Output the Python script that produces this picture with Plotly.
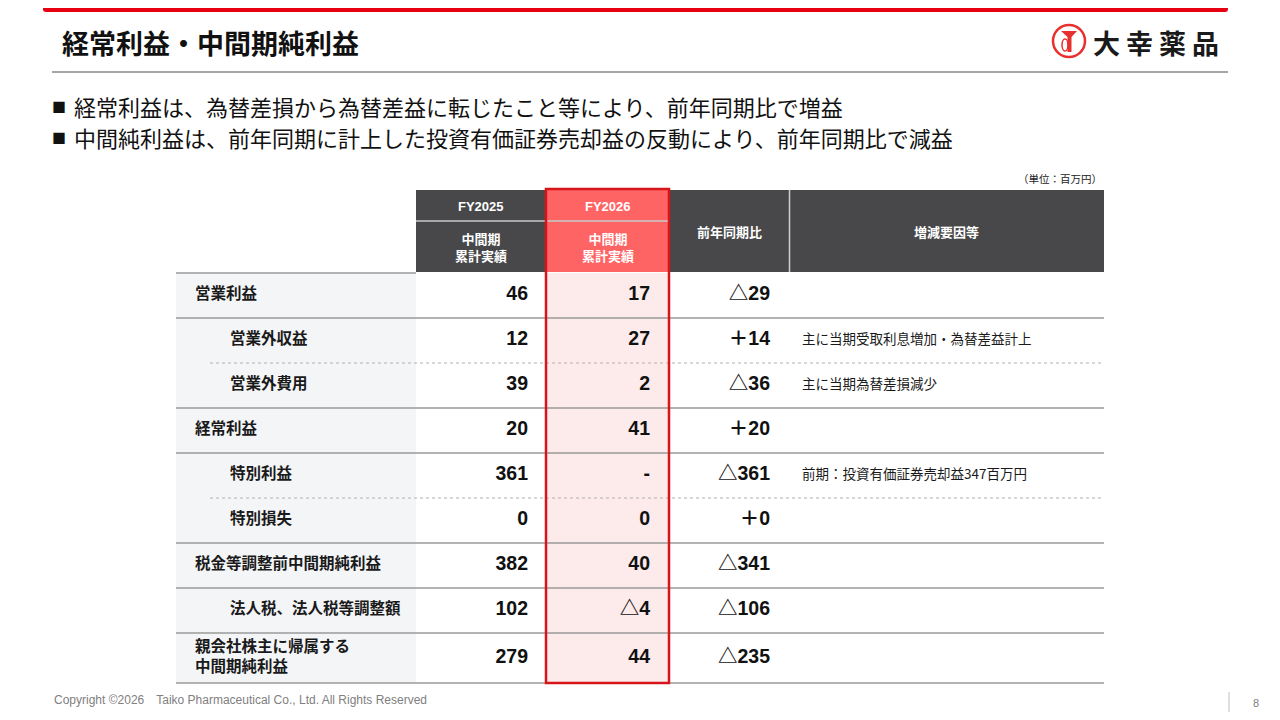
import plotly.graph_objects as go

# ---- data ----
row_labels = [
    "営業利益",
    "営業外収益",
    "営業外費用",
    "経常利益",
    "特別利益",
    "特別損失",
    "税金等調整前中間期純利益",
    "法人税、法人税等調整額",
    "親会社株主に帰属する<br>中間期純利益",
]
row_indent = [0, 1, 1, 0, 1, 1, 0, 1, 0]
fy2025 = [46, 12, 39, 20, 361, 0, 382, 102, 279]
fy2026 = [17, 27, 2, 41, None, 0, 40, -4, 44]
yoy = [-29, 14, -36, 20, -361, 0, -341, -106, -235]
remarks = [
    "",
    "主に当期受取利息増加・為替差益計上",
    "主に当期為替差損減少",
    "",
    "前期：投資有価証券売却益347百万円",
    "",
    "",
    "",
    "",
]
col_headers = ["FY2025", "FY2026", "前年同期比", "増減要因等"]
sub_header = "中間期<br>累計実績"
title = "経常利益・中間期純利益"
bullets = [
    "経常利益は、為替差損から為替差益に転じたこと等により、前年同期比で増益",
    "中間純利益は、前年同期に計上した投資有価証券売却益の反動により、前年同期比で減益",
]
unit_note = "（単位：百万円）"
logo_chars = ["大", "幸", "薬", "品"]
footer = "Copyright ©2026　Taiko Pharmaceutical Co., Ltd. All Rights Reserved"
page_no = "8"

# ---- styles ----
RED = "#e60012"
BORDER_RED = "#d7141a"
HEAD = "#48484a"
HEAD_RED = "#ff6464"
PINK = "#fdeaea"
LABEL_BG = "#f4f5f7"
LINE = "#9a9a9a"
JP = "Noto Sans CJK JP"
NUM = "Liberation Sans, Noto Sans CJK JP"
PAGE_OFFSET = 8  # the page body margin shifts the figure by this much


def fmt(v, sign=False):
    if v is None:
        return "-"
    if v < 0:
        return "△" + str(abs(v))
    return ("＋" if sign else "") + str(v)


# table geometry (pixels)
x_lab, x_25, x_26, x_yoy, x_rem, x_end = 176, 416, 546, 669, 789, 1104
head_top, head_mid, head_bot = 190, 221, 273
row_h = [45] * (len(row_labels) - 1) + [50]
edges = [head_bot]
for h in row_h:
    edges.append(edges[-1] + h)
centers = [(edges[i] + edges[i + 1]) / 2 for i in range(len(row_h))]

fig = go.Figure()
shapes = []


def rect(x0, y0, x1, y1, fill, layer="below"):
    shapes.append(dict(type="rect", x0=x0, x1=x1, y0=y0, y1=y1, fillcolor=fill,
                       line=dict(width=0), layer=layer))


def hline(y, x0, x1, color=LINE, width=1.6, dash="solid"):
    shapes.append(dict(type="line", x0=x0, x1=x1, y0=y, y1=y,
                       line=dict(color=color, width=width, dash=dash), layer="below"))


# top red bar with rounded bottom corners (only the part below the page margin is drawable)
shapes.append(dict(type="path", path="M43,8 L1228,8 L1228,9 Q1228,12 1225,12 L46,12 Q43,12 43,9 Z",
                   fillcolor=RED, line=dict(width=0), layer="below"))
# title underline
hline(72, 52, 1228, color="#a6a6a6", width=2)

# logo mark
shapes.append(dict(type="circle", x0=1053, x1=1085, y0=25, y1=57, fillcolor="white",
                   line=dict(color="#e8302e", width=2.5), layer="below"))
shapes.append(dict(type="path", path="M1061,31 L1077,31 L1071.5,37 L1071.5,52 L1067.5,52 L1067.5,37 Z",
                   fillcolor="#e8302e", line=dict(width=0), layer="below"))
shapes.append(dict(type="circle", x0=1062, x1=1068, y0=39, y1=51,
                   line=dict(color="#e8302e", width=1.5), layer="below"))

# header cells
rect(x_25, head_top, x_end, head_bot - 1, HEAD)
rect(x_26, head_top, x_yoy, head_bot - 1, HEAD_RED)
hline(head_mid, x_25, x_yoy, color="#c8c8c8", width=1.5)
shapes.append(dict(type="line", x0=x_rem + 0.5, x1=x_rem + 0.5, y0=head_top, y1=head_bot - 1,
                   line=dict(color="#d0d0d0", width=1.5), layer="below"))

# body backgrounds
rect(x_lab, head_bot, x_25, edges[-1], LABEL_BG)
rect(x_26, head_bot, x_yoy, edges[-1], PINK)

# row separators
hline(head_bot, x_lab, x_25, width=1.6)
for i in range(len(row_h)):
    y = edges[i + 1]
    if i + 1 < len(row_h) and row_indent[i] and row_indent[i + 1]:
        hline(y, 210, x_end, color="#b0b0b0", width=1, dash="dot")
    else:
        hline(y, x_lab, x_end)

# red outline around FY2026 column
shapes.append(dict(type="rect", x0=x_26, x1=x_yoy, y0=head_top - 1, y1=edges[-1],
                   line=dict(color=BORDER_RED, width=2.5), layer="below"))

# ---- text traces ----
fig.add_trace(go.Scatter(
    x=[195 + 35 * d for d in row_indent], y=centers, mode="text",
    text=row_labels, textposition="middle right",
    textfont=dict(family=JP, size=15.5, color="#1a1a1a", weight="bold"),
))
for col_x, vals, sign in [(528, fy2025, False), (650, fy2026, False), (770, yoy, True)]:
    fig.add_trace(go.Scatter(
        x=[col_x] * len(vals), y=centers, mode="text",
        text=[fmt(v, sign) for v in vals], textposition="middle left",
        textfont=dict(family=NUM, size=19.5, color="#111111", weight="bold"),
    ))
fig.add_trace(go.Scatter(
    x=[802] * len(remarks), y=centers, mode="text",
    text=remarks, textposition="middle right",
    textfont=dict(family=JP, size=13.5, color="#1a1a1a"),
))

# header text
head_font = dict(family=NUM, size=13, color="white", weight="bold")
annotations = [
    dict(x=(x_25 + x_26) / 2, y=206, text=col_headers[0], font=head_font),
    dict(x=(x_26 + x_yoy) / 2, y=206, text=col_headers[1], font=head_font),
    dict(x=(x_25 + x_26) / 2, y=248, text=sub_header, font=head_font),
    dict(x=(x_26 + x_yoy) / 2, y=248, text=sub_header, font=head_font),
    dict(x=(x_yoy + x_rem) / 2, y=232, text=col_headers[2], font=head_font),
    dict(x=(x_rem + x_end) / 2, y=232, text=col_headers[3], font=head_font),
]
for a in annotations:
    a.update(xanchor="center", yanchor="middle")

# slide texts
annotations.append(dict(x=60, y=42, text=title, xanchor="left", yanchor="middle",
                        font=dict(family=JP, size=27, color="#111111", weight="bold")))
for i, ch in enumerate(logo_chars):
    annotations.append(dict(x=1106 + 33 * i, y=42, text=ch, xanchor="center", yanchor="middle",
                            font=dict(family=JP, size=27, color="#1a1a1a", weight="bold")))
for i, b in enumerate(bullets):
    yy = 106 + 31 * i
    annotations.append(dict(x=50, y=yy, text="■", xanchor="left", yanchor="middle",
                            font=dict(family=JP, size=14, color="#111111")))
    annotations.append(dict(x=72, y=yy, text=b, xanchor="left", yanchor="middle",
                            font=dict(family=JP, size=22, color="#111111")))
annotations.append(dict(x=x_end, y=178, text=unit_note, xanchor="right", yanchor="middle",
                        font=dict(family=JP, size=10.5, color="#222222")))
annotations.append(dict(x=52, y=700, text=footer, xanchor="left", yanchor="middle",
                        font=dict(family=NUM, size=12, color="#808080")))
annotations.append(dict(x=1256, y=703, text=page_no, xanchor="center", yanchor="middle",
                        font=dict(family=NUM, size=11, color="#808080")))
shapes.append(dict(type="line", x0=1229, x1=1229, y0=692, y1=712,
                   line=dict(color="#bfbfbf", width=1), layer="below"))

for a in annotations:
    a.update(xref="x", yref="y", showarrow=False)

fig.update_layout(
    width=1280, height=720, autosize=False,
    margin=dict(l=0, r=0, t=0, b=0),
    paper_bgcolor="white", plot_bgcolor="white",
    showlegend=False, hovermode=False,
    xaxis=dict(range=[PAGE_OFFSET, 1280 + PAGE_OFFSET], visible=False, fixedrange=True),
    yaxis=dict(range=[720 + PAGE_OFFSET, PAGE_OFFSET], visible=False, fixedrange=True),
    shapes=shapes, annotations=annotations,
)

fig.write_html("out.html")
